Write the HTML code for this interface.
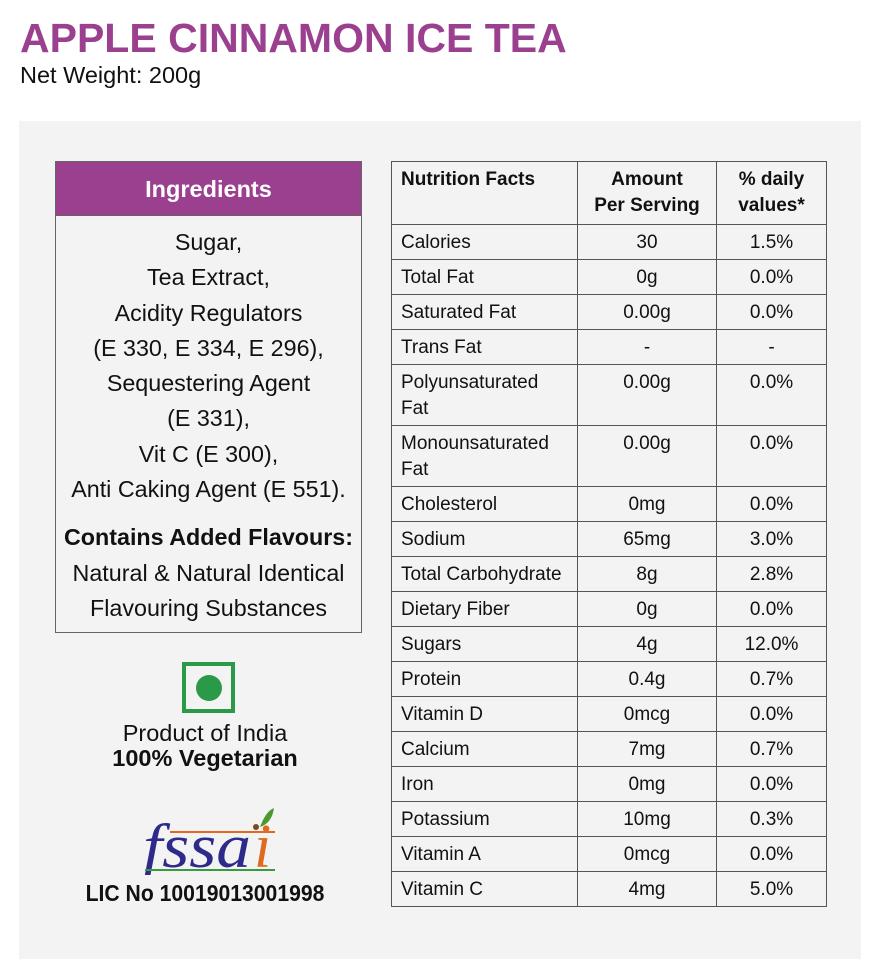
<!DOCTYPE html>
<html><head><meta charset="utf-8"><style>
*{margin:0;padding:0;box-sizing:border-box}
body{width:890px;height:964px;background:#fff;font-family:"Liberation Sans",Arial,sans-serif;color:#111;position:relative;overflow:hidden}
.a{position:absolute}
h1{position:absolute;left:20px;top:15px;font-size:41px;font-weight:bold;color:#9b3f8f;white-space:nowrap}
.nw{left:20px;top:62px;font-size:23.5px}
.panel{left:19px;top:121px;width:842px;height:838px;background:#f3f3f3}
.ing{left:55px;top:161px;width:307px;height:472px;border:1px solid #666;}
.ingh{height:54px;background:#9b3f8f;color:#fff;font-weight:bold;font-size:23.5px;text-align:center;line-height:54px;border-bottom:1px solid #666}
.ingb{text-align:center;font-size:23.3px;line-height:35.3px;padding-top:9px;white-space:nowrap}
.ingb b{display:block;margin-top:13px}
table{position:absolute;left:391px;top:161px;border-collapse:collapse;font-size:19px}
td{border:1.5px solid #555;padding:0 9px;vertical-align:top;white-space:nowrap}
td.c{text-align:center}
tr{height:35px}
td{line-height:26px;padding-top:5px}
</style></head><body>
<h1>APPLE CINNAMON ICE TEA</h1>
<div class="a nw">Net Weight: 200g</div>
<div class="a panel"></div>
<div class="a ing"><div class="ingh">Ingredients</div>
<div class="ingb">Sugar,<br>Tea Extract,<br>Acidity Regulators<br>(E 330, E 334, E 296),<br>Sequestering Agent<br>(E 331),<br>Vit C (E 300),<br>Anti Caking Agent (E 551).<b>Contains Added Flavours:</b>Natural &amp; Natural Identical<br>Flavouring Substances</div></div>
<div class="a" style="left:182px;top:662px;width:53px;height:51px;border:4px solid #2b9a48"><div style="position:absolute;left:10px;top:9px;width:26px;height:26px;border-radius:50%;background:#2b9a48"></div></div>
<div class="a" style="left:40px;top:721px;width:330px;text-align:center;font-size:23.5px;line-height:25px">Product of India<br><b>100% Vegetarian</b></div>
<svg class="a" style="left:140px;top:805px" width="140" height="70">
<text x="3" y="62" font-family="Liberation Serif" font-style="italic" font-size="62" fill="#2e2a8c" textLength="108" lengthAdjust="spacingAndGlyphs">fssa</text>
<text x="114" y="62" font-family="Liberation Serif" font-style="italic" font-size="62" fill="#e06a1f">i</text>
<line x1="30" y1="27" x2="135" y2="27" stroke="#e06a1f" stroke-width="2"/>
<line x1="5" y1="65" x2="135" y2="65" stroke="#3a9a40" stroke-width="2"/>
<path d="M120 22 Q126 6 134 3 Q132 18 120 22Z" fill="#4a9a30"/>
<circle cx="116" cy="22" r="3" fill="#7a4a20"/>
</svg>
<div class="a" style="left:20px;top:880px;width:370px;text-align:center;font-size:23px;font-weight:bold;transform:scaleX(0.92)">LIC No 10019013001998</div>
<table>
<tr style="height:63px"><td style="width:186px"><b>Nutrition Facts</b></td><td class="c" style="width:139px"><b>Amount<br>Per Serving</b></td><td class="c" style="width:110px"><b>% daily<br>values*</b></td></tr>
<tr><td>Calories</td><td class="c">30</td><td class="c">1.5%</td></tr>
<tr><td>Total Fat</td><td class="c">0g</td><td class="c">0.0%</td></tr>
<tr><td>Saturated Fat</td><td class="c">0.00g</td><td class="c">0.0%</td></tr>
<tr><td>Trans Fat</td><td class="c">-</td><td class="c">-</td></tr>
<tr style="height:61px"><td>Polyunsaturated<br>Fat</td><td class="c">0.00g</td><td class="c">0.0%</td></tr>
<tr style="height:61px"><td>Monounsaturated<br>Fat</td><td class="c">0.00g</td><td class="c">0.0%</td></tr>
<tr><td>Cholesterol</td><td class="c">0mg</td><td class="c">0.0%</td></tr>
<tr><td>Sodium</td><td class="c">65mg</td><td class="c">3.0%</td></tr>
<tr><td>Total Carbohydrate</td><td class="c">8g</td><td class="c">2.8%</td></tr>
<tr><td>Dietary Fiber</td><td class="c">0g</td><td class="c">0.0%</td></tr>
<tr><td>Sugars</td><td class="c">4g</td><td class="c">12.0%</td></tr>
<tr><td>Protein</td><td class="c">0.4g</td><td class="c">0.7%</td></tr>
<tr><td>Vitamin D</td><td class="c">0mcg</td><td class="c">0.0%</td></tr>
<tr><td>Calcium</td><td class="c">7mg</td><td class="c">0.7%</td></tr>
<tr><td>Iron</td><td class="c">0mg</td><td class="c">0.0%</td></tr>
<tr><td>Potassium</td><td class="c">10mg</td><td class="c">0.3%</td></tr>
<tr><td>Vitamin A</td><td class="c">0mcg</td><td class="c">0.0%</td></tr>
<tr><td>Vitamin C</td><td class="c">4mg</td><td class="c">5.0%</td></tr>
</table>
</body></html>
